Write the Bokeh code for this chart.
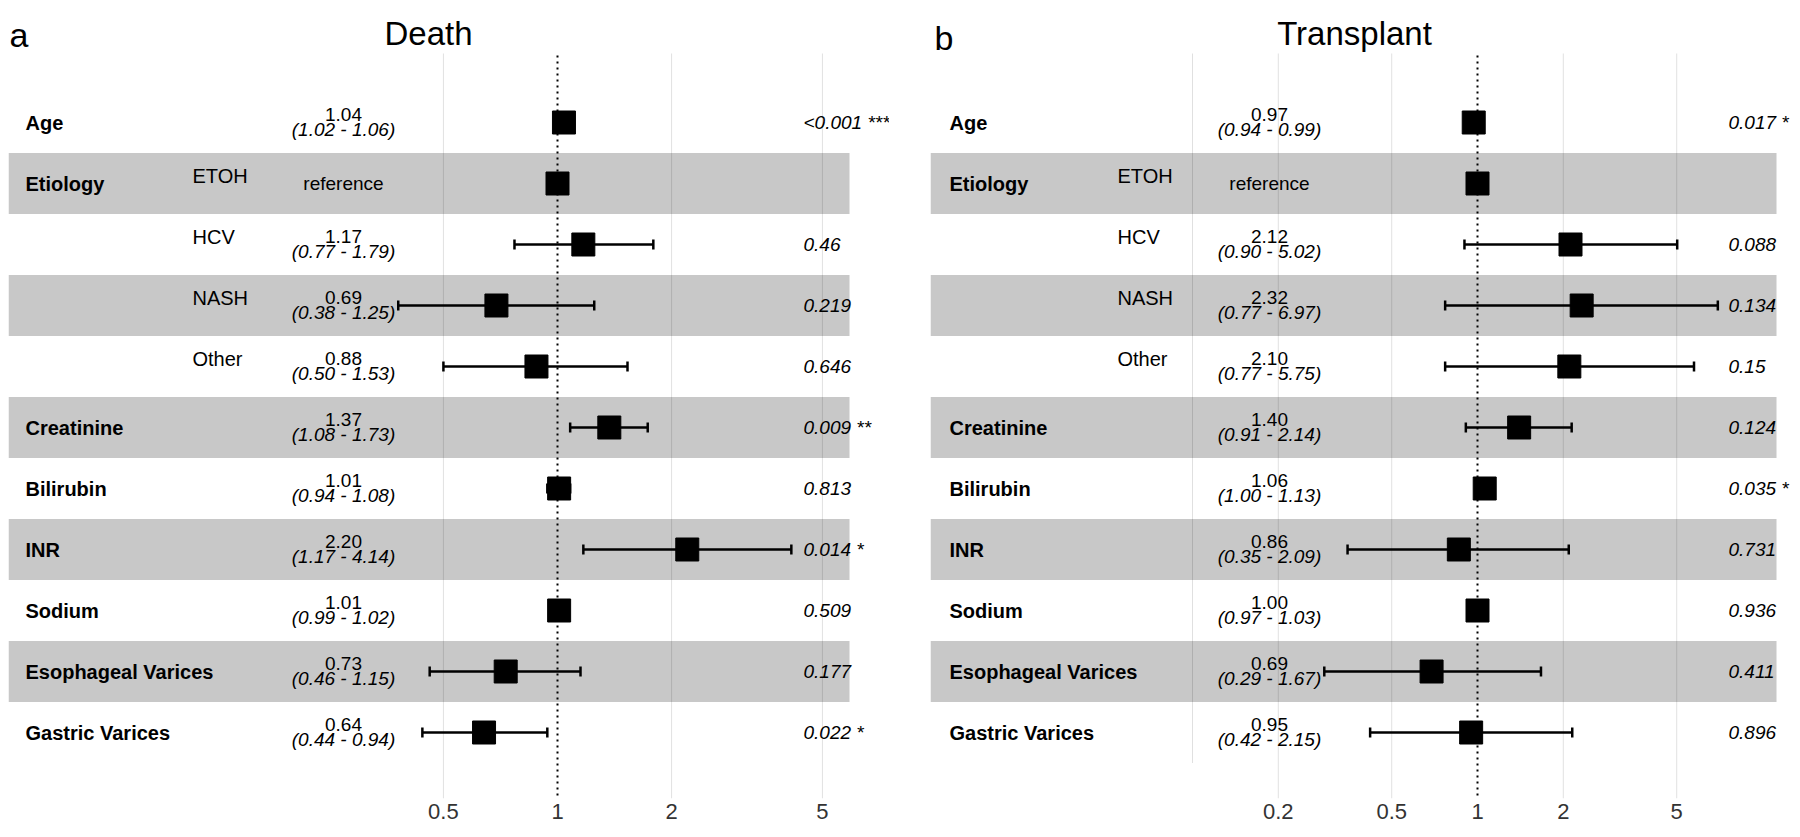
from bokeh.plotting import figure
from bokeh.models import (Range1d, LinearScale, ColumnDataSource, Whisker, TeeHead,
                          FixedTicker, CustomJSTickFormatter, Spacer)
from bokeh.layouts import row
from bokeh.core.properties import value
from bokeh.embed import file_html
from bokeh.resources import INLINE

# ---------------- data ----------------
variables = ["Age", "Etiology", "", "", "", "Creatinine", "Bilirubin", "INR",
             "Sodium", "Esophageal Varices", "Gastric Varices"]
levels = ["", "ETOH", "HCV", "NASH", "Other", "", "", "", "", "", ""]

death_hr = [1.04, 1.00, 1.17, 0.69, 0.88, 1.37, 1.01, 2.20, 1.01, 0.73, 0.64]
death_lo = [1.02, None, 0.77, 0.38, 0.50, 1.08, 0.94, 1.17, 0.99, 0.46, 0.44]
death_hi = [1.06, None, 1.79, 1.25, 1.53, 1.73, 1.08, 4.14, 1.02, 1.15, 0.94]
death_p = ["<0.001 ***", "", "0.46", "0.219", "0.646", "0.009 **", "0.813",
           "0.014 *", "0.509", "0.177", "0.022 *"]

tx_hr = [0.97, 1.00, 2.12, 2.32, 2.10, 1.40, 1.06, 0.86, 1.00, 0.69, 0.95]
tx_lo = [0.94, None, 0.90, 0.77, 0.77, 0.91, 1.00, 0.35, 0.97, 0.29, 0.42]
tx_hi = [0.99, None, 5.02, 6.97, 5.75, 2.14, 1.13, 2.09, 1.03, 1.67, 2.15]
tx_p = ["0.017 *", "", "0.088", "0.134", "0.15", "0.124", "0.035 *", "0.731",
        "0.936", "0.411", "0.896"]

death_ticks = [0.5, 1, 2, 5]
death_grid = [0.5, 2, 5]
death_short_grid = []
tx_ticks = [0.2, 0.5, 1, 2, 5]
tx_grid = [0.2, 0.5, 2, 5]
tx_short_grid = [0.1]

# ---------------- layout constants ----------------
FONT = "Liberation Sans"
PAGE_TOP = 8
ROW0 = 122.0      # page y of first row centre
ROWH = 61.0       # row pitch in px
FRAME_H = 790
BAND = "#c8c8c8"


def ry(page_y):
    return (page_y - ROW0) / ROWH


def make_panel(letter, title, hr, lo, hi, pv, ticks, grid, short_grid,
               frame_w, one_px, decade_px, band_w, col_label, col_level,
               col_est, col_p, letter_x, letter_base, title_x, left_pad):
    n = len(hr)
    x_start = 10 ** (-one_px / decade_px)
    x_end = 10 ** ((frame_w - one_px) / decade_px)
    y_top = ry(PAGE_TOP)
    y_bot = ry(PAGE_TOP + FRAME_H)
    p = figure(x_axis_type="log", x_range=Range1d(x_start, x_end),
               y_range=Range1d(y_bot, y_top),
               frame_width=frame_w, frame_height=FRAME_H,
               output_backend="svg", toolbar_location=None,
               min_border=0, min_border_left=left_pad, min_border_right=0,
               min_border_top=PAGE_TOP, min_border_bottom=34,
               y_axis_location=None, outline_line_color=None,
               background_fill_color="white", border_fill_color="white")
    p.extra_x_ranges = {"tbl": Range1d(0, frame_w)}
    p.extra_x_scales = {"tbl": LinearScale()}
    p.xgrid.visible = False
    p.ygrid.visible = False

    rows = list(range(n))

    # alternating bands
    band_rows = [i for i in rows if i % 2 == 1]
    p.quad(left=0, right=band_w, top=[i - 0.5 for i in band_rows],
           bottom=[i + 0.5 for i in band_rows], x_range_name="tbl",
           fill_color=BAND, line_color=None)

    # vertical grid lines
    g_top = ry(53)
    g_bot = ry(PAGE_TOP + FRAME_H)
    if grid:
        p.segment(x0=grid, x1=grid, y0=[g_top] * len(grid), y1=[g_bot] * len(grid),
                  line_color="black", line_alpha=0.12, line_width=1)
    if short_grid:
        p.segment(x0=short_grid, x1=short_grid, y0=[g_top] * len(short_grid),
                  y1=[n - 0.5] * len(short_grid),
                  line_color="black", line_alpha=0.12, line_width=1)
    # reference line at 1
    p.segment(x0=[1], x1=[1], y0=[ry(55)], y1=[g_bot], line_color="black",
              line_width=2, line_dash="2 4")

    # variable labels
    p.text(x=[col_label] * n, y=rows, text=variables, x_range_name="tbl",
           text_font=value(FONT), text_font_size="20px", text_font_style="bold",
           text_baseline="middle", text_align="left", text_color="black")
    # levels
    p.text(x=[col_level] * n, y=rows, text=levels, x_range_name="tbl",
           text_font=value(FONT), text_font_size="20px", y_offset=-8,
           text_baseline="middle", text_align="left", text_color="black")

    # estimates
    est1, est2, ref_txt = [], [], []
    for h, l, u in zip(hr, lo, hi):
        if l is None:
            est1.append("")
            est2.append("")
            ref_txt.append("reference")
        else:
            est1.append(f"{h:.2f}")
            est2.append(f"({l:.2f} - {u:.2f})")
            ref_txt.append("")
    p.text(x=[col_est] * n, y=rows, text=est1, x_range_name="tbl",
           text_font=value(FONT), text_font_size="19px", y_offset=-8,
           text_baseline="middle", text_align="center", text_color="black")
    p.text(x=[col_est] * n, y=rows, text=est2, x_range_name="tbl",
           text_font=value(FONT), text_font_size="19px", text_font_style="italic",
           y_offset=7, text_baseline="middle", text_align="center", text_color="black")
    p.text(x=[col_est] * n, y=rows, text=ref_txt, x_range_name="tbl",
           text_font=value(FONT), text_font_size="19px",
           text_baseline="middle", text_align="center", text_color="black")

    # p-values
    p.text(x=[col_p] * n, y=rows, text=pv, x_range_name="tbl",
           text_font=value(FONT), text_font_size="19px", text_font_style="italic",
           text_baseline="middle", text_align="left", text_color="black")

    # CI whiskers
    ci_rows = [i for i in rows if lo[i] is not None]
    src = ColumnDataSource(dict(y=ci_rows, lo=[lo[i] for i in ci_rows],
                                hi=[hi[i] for i in ci_rows]))
    w = Whisker(base="y", lower="lo", upper="hi", dimension="width", source=src,
                line_color="black", line_width=2.5, level="annotation",
                lower_head=TeeHead(size=10, line_width=2.5, line_color="black"),
                upper_head=TeeHead(size=10, line_width=2.5, line_color="black"))
    p.add_layout(w)

    # point estimates
    p.scatter(x=hr, y=rows, marker="square", size=23, fill_color="black",
              line_color="black")

    # panel letter and title
    p.text(x=[letter_x], y=[ry(letter_base)], text=[letter], x_range_name="tbl",
           text_font=value(FONT), text_font_size="34px", text_baseline="alphabetic",
           text_align="left", text_color="black")
    p.text(x=[title_x], y=[ry(33)], text=[title], x_range_name="tbl",
           text_font=value(FONT), text_font_size="33px", text_baseline="alphabetic",
           text_align="center", text_color="black")

    # x axis
    ax = p.xaxis[0]
    ax.ticker = FixedTicker(ticks=ticks, minor_ticks=[])
    ax.formatter = CustomJSTickFormatter(code="return String(tick);")
    ax.axis_line_color = None
    ax.major_tick_line_color = None
    ax.major_tick_out = 0
    ax.major_tick_in = 0
    ax.minor_tick_line_color = None
    ax.major_label_standoff = 5
    ax.major_label_text_font = FONT
    ax.major_label_text_font_size = "22px"
    ax.major_label_text_color = "#333333"
    return p


pa = make_panel("a", "Death", death_hr, death_lo, death_hi, death_p,
                death_ticks, death_grid, death_short_grid,
                frame_w=881, one_px=549, decade_px=379, band_w=841,
                col_label=17, col_level=184, col_est=335, col_p=795,
                letter_x=1, letter_base=34, title_x=420, left_pad=8)
pb = make_panel("b", "Transplant", tx_hr, tx_lo, tx_hi, tx_p,
                tx_ticks, tx_grid, tx_short_grid,
                frame_w=862, one_px=547, decade_px=285, band_w=846,
                col_label=19, col_level=187, col_est=339, col_p=798,
                letter_x=4, letter_base=37, title_x=424, left_pad=0)

layout = row(pa, Spacer(width=41), pb)
open("out.html", "w").write(file_html(layout, INLINE))
